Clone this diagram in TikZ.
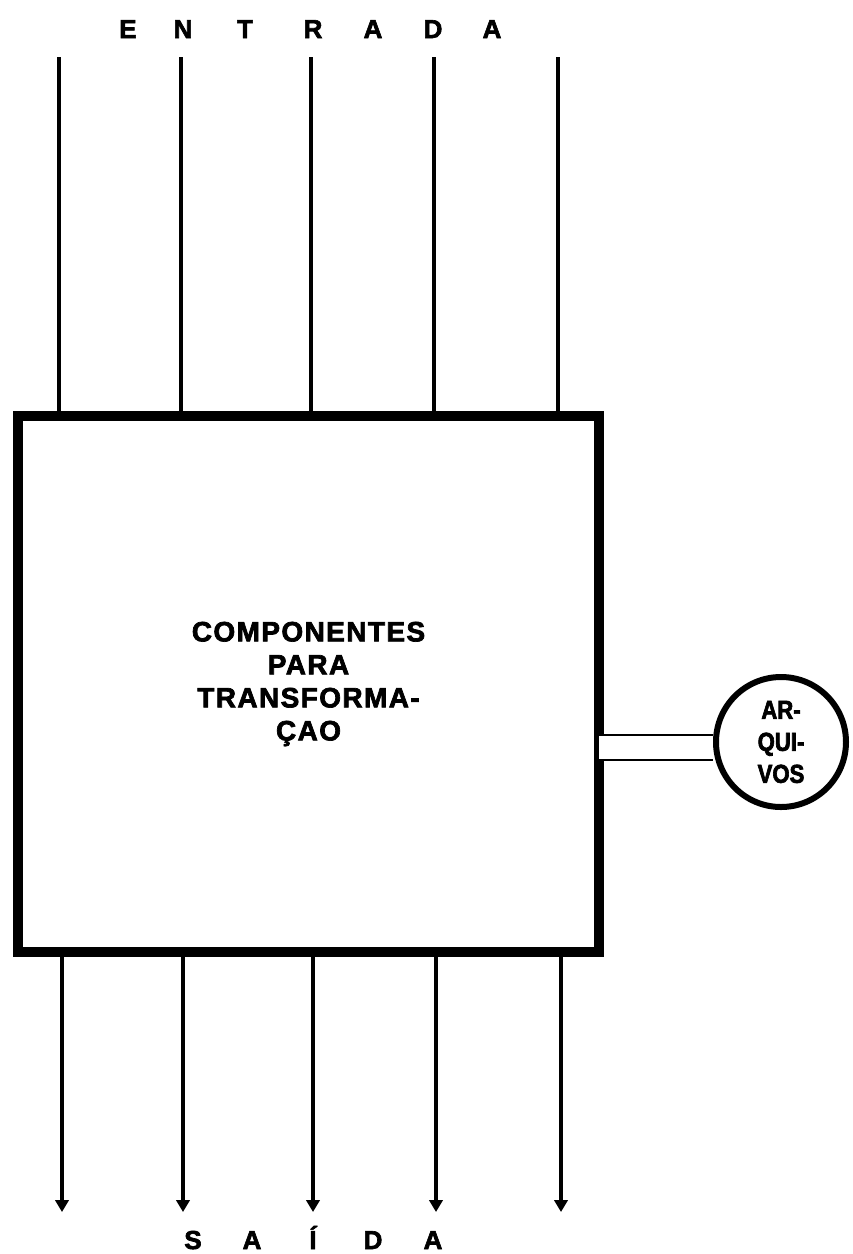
\documentclass[tikz,border=0pt]{standalone}
\usepackage{fontspec}
\usepackage{tikz}
\usetikzlibrary{arrows.meta}
\newfontfamily\blockfont{Liberation Sans}[LetterSpace=5,FakeBold=2.5]
\newfontfamily\letterfont{Liberation Sans}[FakeBold=2.5]
\newfontfamily\narrowfont{Liberation Sans}[FakeBold=2.5,FakeStretch=0.85]

\begin{document}
\begin{tikzpicture}[x=0.75pt,y=-0.75pt]
        \useasboundingbox (0,0) rectangle (853,1254);

        % caixa central
        \node[draw, line width=7pt, minimum width=435.75pt, minimum height=402pt, align=center,
              font=\blockfont\bfseries\fontsize{21}{24.75}\selectfont] (box) at (308.5,684)
              {COMPONENTES\\PARA\\TRANSFORMA-\\ÇAO};

        \node[circle, draw, line width=4.5pt, minimum size=97.5pt, inner sep=0pt, align=center,
              font=\narrowfont\bfseries\fontsize{19.5}{24}\selectfont] (arq) at (781,742)
              {AR-\\QUI-\\VOS};

        \coordinate (lk) at (599,747.5);
        \draw[line width=1.9pt, double, double distance=16.9pt] (lk) -- (lk -| arq.west);

        % entrada
        \foreach \l/\x [count=\i] in {E/128,N/183,T/245,R/313,A/373,D/433,A/492}
            \node[anchor=base, inner sep=0pt, font=\letterfont\bfseries\fontsize{19.5}{20}\selectfont] (e\i) at (\x,38) {\l};
        \foreach \x [count=\i] in {59,181,311,434,558}
        {
            \coordinate (in\i) at (\x,57);
            \draw[line width=3pt] (in\i) -- (in\i |- box.north);
        }

        % saida
        \foreach \x [count=\i] in {62,183,313,436,561}
        {
            \coordinate (out\i) at (\x,1212);
            \draw[line width=3pt, -{Triangle[width=10pt,length=9pt]}] (out\i |- box.south) -- (out\i);
        }
        \foreach \l/\x [count=\i] in {S/193,A/252,Í/313,D/373,A/433}
            \node[anchor=base, inner sep=0pt, font=\letterfont\bfseries\fontsize{19.5}{20}\selectfont] (s\i) at (\x,1249) {\l};

\end{tikzpicture}
\end{document}
